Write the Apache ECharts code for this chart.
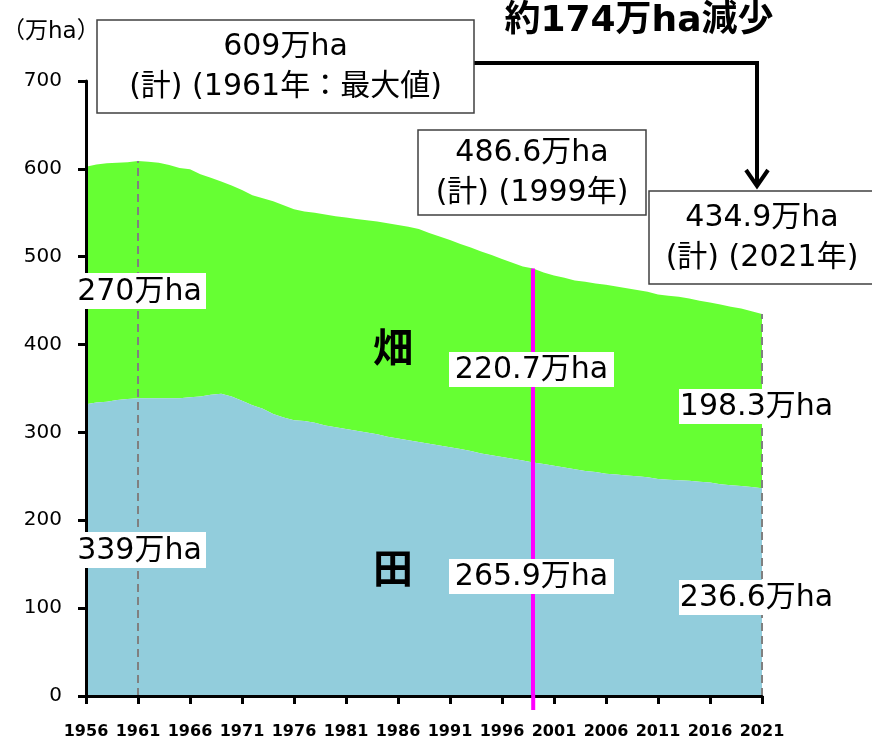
<!DOCTYPE html>
<html>
<head>
<meta charset="utf-8">
<script src="https://cdn.jsdelivr.net/npm/echarts@6/dist/echarts.min.js"></script>
<style>
  html, body { margin: 0; padding: 0; background: #fff; }
  #chart { width: 872px; height: 743px; }
</style>
</head>
<body>
<div id="chart"></div>
<script>
// 年（1956〜2021）
var years = [];
for (var y = 1956; y <= 2021; y++) years.push(String(y));

// 田（万ha）
var paddy = [
  332, 334, 335, 337, 338, 339, 339, 339, 339, 339,
  340, 341, 343, 344, 341, 336, 331, 327, 321, 317,
  314, 313, 311, 308, 306, 304, 302, 300, 298, 295,
  293, 291, 289, 287, 285, 283, 281, 279, 276, 274,
  272, 270, 268, 265.9, 264, 262, 260, 258, 256, 255,
  253, 252, 251, 250, 249, 247, 246, 245.5, 245, 244,
  243, 241, 240, 239, 238, 236.6
];

// 畑（万ha）
var upland = [
  270.5, 271, 271.5, 270, 269.5, 270, 269, 268, 265.5, 262,
  259.5, 253, 247, 241.5, 240, 240, 239, 239.5, 242, 241.5,
  240, 238.5, 239, 240, 240, 240.5, 241, 241.5, 242, 243,
  243, 243, 242.5, 240, 238, 236, 233.5, 231.5, 230, 228,
  225.5, 223, 221, 220.7, 218, 216.5, 216, 215, 215.5, 214.5,
  215, 214, 213, 212, 211, 210, 209.5, 209, 207.5, 206,
  205, 204.5, 203, 202, 200, 198.3
];

var yTicks = [0, 100, 200, 300, 400, 500, 600, 700];

var FONT = '"DejaVu Sans", "Noto Sans CJK JP", sans-serif';

var chart = echarts.init(document.getElementById('chart'));

// 白地ラベル
function whiteLabel(x, y, w, h, text) {
  return {
    type: 'group',
    z: 100,
    children: [
      { type: 'rect', z: 100, shape: { x: x, y: y, width: w, height: h }, style: { fill: '#fff' } },
      { type: 'text', z: 101, style: { x: x + w / 2, y: y + h / 2 + 1, text: text, font: '30px ' + FONT, fill: '#000', align: 'center', verticalAlign: 'middle' } }
    ]
  };
}

// 枠付きの注記
function boxLabel(x, y, w, h, line1, line2) {
  return {
    type: 'group',
    z: 100,
    children: [
      { type: 'rect', z: 100, shape: { x: x, y: y, width: w, height: h }, style: { fill: '#fff', stroke: '#404040', lineWidth: 1.5 } },
      { type: 'text', z: 101, style: { x: x + w / 2, y: y + h / 2 - 19, text: line1, font: '30px ' + FONT, fill: '#000', align: 'center', verticalAlign: 'middle' } },
      { type: 'text', z: 101, style: { x: x + w / 2, y: y + h / 2 + 21, text: line2, font: '30px ' + FONT, fill: '#000', align: 'center', verticalAlign: 'middle' } }
    ]
  };
}

var option = {
  animation: false,
  backgroundColor: '#fff',
  grid: { left: 86, right: 110, top: 81, bottom: 47, containLabel: false },
  xAxis: {
    type: 'category',
    data: years,
    boundaryGap: false,
    axisLine: { lineStyle: { color: '#000', width: 3 } },
    axisTick: { interval: 4, length: 8, lineStyle: { color: '#000', width: 3 } },
    axisLabel: { interval: 4, margin: 28, color: '#000', fontSize: 16, fontWeight: 'bold', fontFamily: FONT },
    splitLine: { show: false },
    z: 10
  },
  yAxis: {
    type: 'value',
    min: yTicks[0],
    max: yTicks[yTicks.length - 1],
    interval: 100,
    axisLine: { show: true, lineStyle: { color: '#000', width: 3 } },
    axisTick: { show: true, length: 8, lineStyle: { color: '#000', width: 3 } },
    axisLabel: { margin: 24, color: '#000', fontSize: 20, fontFamily: FONT },
    splitLine: { show: false },
    z: 10
  },
  series: [
    {
      name: '田',
      type: 'line',
      stack: 'total',
      data: paddy,
      symbol: 'none',
      lineStyle: { width: 0 },
      areaStyle: { color: '#92CDDC', opacity: 1 },
      z: 2
    },
    {
      name: '畑',
      type: 'line',
      stack: 'total',
      data: upland,
      symbol: 'none',
      lineStyle: { width: 0 },
      areaStyle: { color: '#66FF33', opacity: 1 },
      z: 1,
      markLine: {
        silent: true,
        symbol: 'none',
        label: { show: false },
        data: [
          [
            { coord: ['1961', 0], lineStyle: { color: '#808080', width: 2, type: [8, 5] } },
            { coord: ['1961', 609] }
          ],
          [
            { coord: ['2021', 0], lineStyle: { color: '#808080', width: 2, type: [8, 5] } },
            { coord: ['2021', 434.9] }
          ],
          [
            { coord: ['1999', 0], lineStyle: { color: '#FF00FF', width: 4, type: 'solid' } },
            { coord: ['1999', 486.6] }
          ]
        ]
      }
    }
  ]
};

chart.setOption(option);

// 1999年の線の軸下へのはみ出し分と注記
var x1999 = chart.convertToPixel({ xAxisIndex: 0 }, '1999') - 2;
var y0 = chart.convertToPixel({ yAxisIndex: 0 }, 0);

chart.setOption({
  graphic: [
    { type: 'line', z: 100, shape: { x1: x1999 + 2, y1: y0 - 2, x2: x1999 + 2, y2: y0 + 14 }, style: { stroke: '#FF00FF', lineWidth: 4 } },
    { type: 'text', z: 100, style: { x: 2, y: 32, text: '（万ha）', font: '23px ' + FONT, fill: '#000', verticalAlign: 'middle' } },
    { type: 'text', z: 100, style: { x: 639, y: 22, text: '約174万ha減少', font: 'bold 36px ' + FONT, fill: '#000', align: 'center', verticalAlign: 'middle' } },
    // 矢印
    { type: 'polyline', z: 100, shape: { points: [[474, 63], [757, 63], [757, 184]] }, style: { stroke: '#000', lineWidth: 4, fill: null } },
    { type: 'polyline', z: 100, shape: { points: [[746, 170], [757, 186], [768, 170]] }, style: { stroke: '#000', lineWidth: 4, fill: null } },
    boxLabel(97, 20, 377, 93, '609万ha', '(計) (1961年：最大値)'),
    boxLabel(418, 130, 228, 85, '486.6万ha', '(計) (1999年)'),
    boxLabel(649, 191, 226, 93, '434.9万ha', '(計) (2021年)'),
    whiteLabel(73, 273, 133, 36, '270万ha'),
    whiteLabel(73, 532, 133, 36, '339万ha'),
    whiteLabel(449, 352, 165, 35, '220.7万ha'),
    whiteLabel(449, 559, 165, 35, '265.9万ha'),
    whiteLabel(679, 389, 155, 35, '198.3万ha'),
    whiteLabel(679, 580, 155, 35, '236.6万ha'),
    { type: 'text', z: 100, style: { x: 393, y: 352, text: '畑', font: 'bold 40px ' + FONT, fill: '#000', align: 'center', verticalAlign: 'middle' } },
    { type: 'text', z: 100, style: { x: 393, y: 573, text: '田', font: 'bold 40px ' + FONT, fill: '#000', align: 'center', verticalAlign: 'middle' } }
  ]
});
</script>
</body>
</html>
